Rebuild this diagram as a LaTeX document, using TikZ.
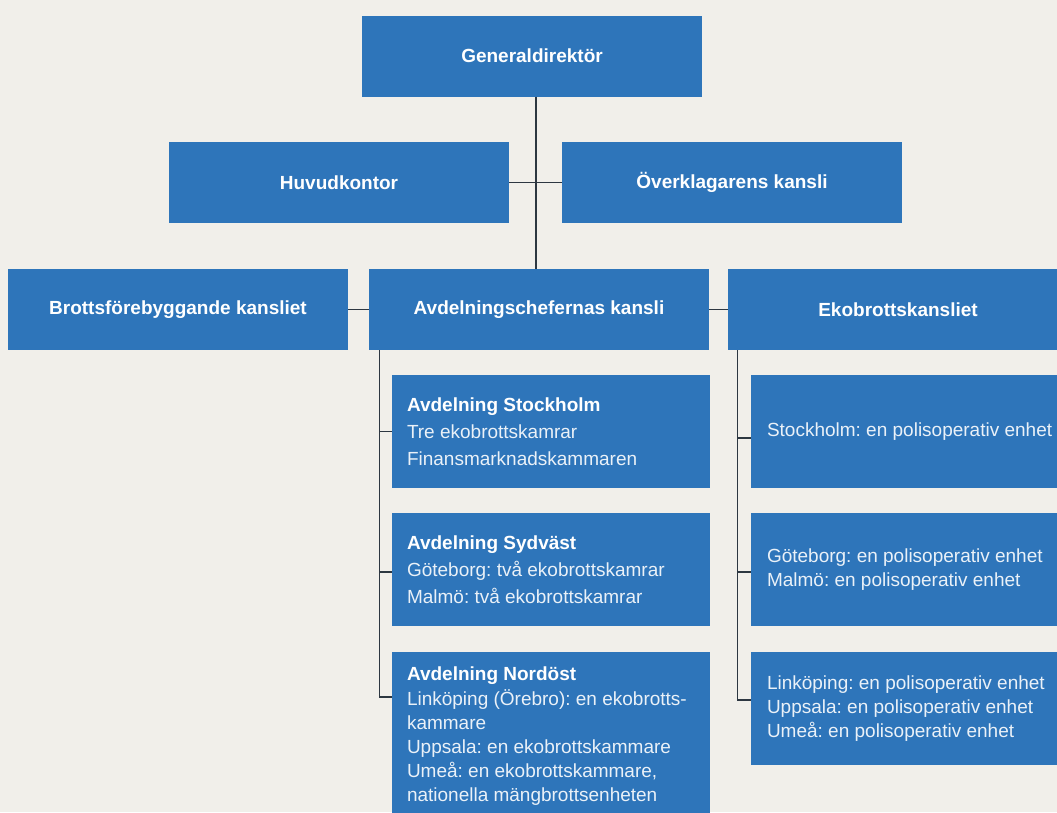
\documentclass[tikz,border=0pt]{standalone}
\usepackage{fontspec}
\setmainfont{Liberation Sans}
\usepackage{xcolor}
\frenchspacing
\definecolor{boxblue}{RGB}{46,117,186}
\definecolor{paper}{RGB}{241,239,234}
\definecolor{linegray}{RGB}{45,55,65}
\tikzset{%
    unit/.style={fill=boxblue, text=white, inner sep=0pt,
        minimum width=340pt, minimum height=81pt,
        font=\bfseries\fontsize{19}{23}\selectfont},
    subunit/.style={fill=boxblue, inner sep=0pt,
        minimum width=318pt, minimum height=113pt},
    subtext/.style={anchor=west, align=left, inner sep=0pt,
        text=white!90!boxblue, font=\fontsize{19}{27}\selectfont},
    link/.style={draw=linegray, line width=1.3pt}
}

\begin{document}
\begin{tikzpicture}[x=1pt,y=-1pt]
    \fill[paper] (0,0) rectangle (1057,812);
    \path[use as bounding box] (0,0) rectangle (1057,812);
    \clip (0,0) rectangle (1057,812);
%-----------------------------------------------
    \node[unit] (gd)  at (532,56)    {Generaldirektör};
    \node[unit] (huv) at (339,182.5) {Huvudkontor};
    \node[unit] (ovk) at (732,182.5) {Överklagarens kansli};
    \node[unit] (bfk) at (178,309.5) {Brottsförebyggande kansliet};
    \node[unit] (ack) at (539,309.5) {Avdelningschefernas kansli};
    \node[unit] (eko) at (898,309.5) {Ekobrottskansliet};
%-----------------------------------------------
    \node[subunit] (asth) at (551,431.5) {};
    \node[subunit] (asyd) at (551,569.5) {};
    \node[subunit, minimum height=169pt] (anst) at (551,736.5) {};
    \node[subunit] (esth) at (910,431.5) {};
    \node[subunit] (egbg) at (910,569.5) {};
    \node[subunit] (elin) at (910,708.5) {};
%-----------------------------------------------
    \node[subtext] (asth-t) at ([xshift=15pt]asth.west)
        {\textcolor{white}{\bfseries Avdelning Stockholm}\\
         Tre ekobrottskamrar\\
         Finansmarknadskammaren};
    \node[subtext] (asyd-t) at ([xshift=15pt]asyd.west)
        {\textcolor{white}{\bfseries Avdelning Sydväst}\\
         Göteborg: två ekobrottskamrar\\
         Malmö: två ekobrottskamrar};
    \node[subtext, font=\fontsize{19}{24.2}\selectfont] (anst-t) at ([xshift=15pt]anst.west)
        {\textcolor{white}{\bfseries Avdelning Nordöst}\\
         Linköping (Örebro): en ekobrotts-\\
         kammare\\
         Uppsala: en ekobrottskammare\\
         Umeå: en ekobrottskammare,\\
         nationella mängbrottsenheten};
    \node[subtext] (esth-t) at ([xshift=16pt]esth.west)
        {Stockholm: en polisoperativ enhet};
    \node[subtext, font=\fontsize{19}{24.5}\selectfont] (egbg-t) at ([xshift=16pt]egbg.west)
        {Göteborg: en polisoperativ enhet\\
         Malmö: en polisoperativ enhet};
    \node[subtext, font=\fontsize{19}{24}\selectfont] (elin-t) at ([xshift=16pt]elin.west)
        {Linköping: en polisoperativ enhet\\
         Uppsala: en polisoperativ enhet\\
         Umeå: en polisoperativ enhet};
%-----------------------------------------------
    \coordinate (trunk) at (536,0);
    \draw[link] (gd.south -| trunk) -- (ack.north -| trunk);
    \draw[link] (huv.east) -- (ovk.west);
    \draw[link] (bfk.east) -- (ack.west);
    \draw[link] (ack.east) -- (eko.west);
%-----------------------------------------------
    \draw[link] ([xshift=11pt]ack.south west) coordinate (ls)
        |- ([yshift=39.5pt]anst.west);
    \draw[link] (ls |- asth.west) -- (asth.west);
    \draw[link] ([yshift=-2.5pt]ls |- asyd.west) -- ([yshift=-2.5pt]asyd.west);
%-----------------------------------------------
    \draw[link] ([xshift=10pt]eko.south west) coordinate (rs)
        |- ([yshift=8.5pt]elin.west);
    \draw[link] ([yshift=-6.5pt]rs |- esth.west) -- ([yshift=-6.5pt]esth.west);
    \draw[link] ([yshift=-2.5pt]rs |- egbg.west) -- ([yshift=-2.5pt]egbg.west);
\end{tikzpicture}
\end{document}
